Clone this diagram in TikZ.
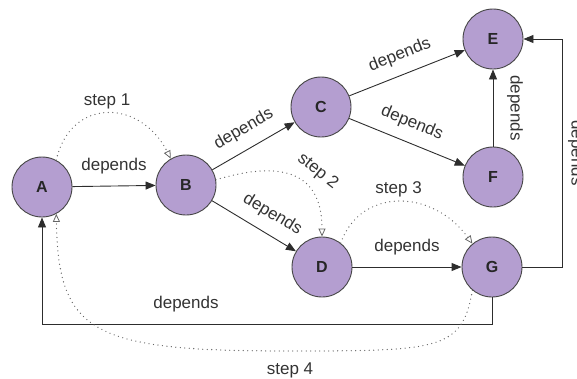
\documentclass[tikz,border=0pt]{standalone}
\usepackage{fontspec}
\setmainfont{Liberation Sans}
\usetikzlibrary{arrows.meta}
\definecolor{nodefill}{RGB}{180,158,208}
\definecolor{nodeline}{RGB}{70,70,70}
\definecolor{edgecol}{RGB}{45,45,45}
\definecolor{stepcol}{RGB}{100,100,100}
\tikzset{
  vtx/.style={circle, draw=nodeline, line width=0.9pt, fill=nodefill, minimum size=60pt, inner sep=0pt, font=\fontsize{16}{19}\selectfont\bfseries, text=black!85},
  dep/.style={draw=edgecol, line width=0.9pt, -{Triangle[length=10pt,width=8pt]}},
  stepline/.style={draw=stepcol, line width=1.3pt, line cap=round, dash pattern=on 0pt off 4.5pt, -{Triangle[open,length=8pt,width=7pt,line width=0.8pt,line cap=butt]}},
  lbl/.style={font=\fontsize{17}{20}\selectfont, text=black!80, inner sep=0pt},
}
\begin{document}
\begin{tikzpicture}[x=1pt,y=1pt]
\useasboundingbox (0,0) rectangle (577,-378);
\node[vtx] (A) at (42,-187) {A};
\node[vtx] (B) at (186,-185) {B};
\node[vtx] (C) at (321,-107) {C};
\node[vtx] (D) at (322,-267) {D};
\node[vtx] (E) at (493,-39) {E};
\node[vtx] (F) at (493,-177) {F};
\node[vtx] (G) at (492,-267) {G};
\coordinate (gr) at (562,-267);
\coordinate (er) at (562,-39);
\coordinate (gb) at (492,-324);
\coordinate (ab) at (42,-324);
% solid connectors
\draw[dep] (A) -- node[lbl, midway, above=12pt] {depends} (B);
\draw[dep] (B) -- node[lbl, pos=0.5, sloped, above=11pt] {depends} (C);
\draw[dep] (B) -- node[lbl, pos=0.6, sloped, above=11pt] {depends} (D);
\draw[dep] (C) -- node[lbl, pos=0.5, sloped, above=11pt] {depends} (E);
\draw[dep] (C) -- node[lbl, pos=0.48, sloped, above=11pt] {depends} (F);
\draw[dep] (D) -- node[lbl, midway, above=12pt] {depends} (G);
\draw[dep] (F) -- node[lbl, midway, xshift=22pt, rotate=-90] {depends} (E);
\draw[dep] (G.east) -- (gr) -- node[lbl, pos=0.5, xshift=14pt, rotate=-90] {depends} (er) -- (E.east);
\draw[dep] (G.south) -- (gb) -- node[lbl, pos=0.68, above=12pt] {depends} (ab) -- (A.south);
% steps
\draw[stepline] (A.62) .. controls (70,-98) and (140,-98) .. node[lbl, pos=0.5, above=4pt] {step 1} (B.120);
\draw[stepline] (B.10) .. controls (272,-163) and (322,-165) .. node[lbl, pos=0.7, shift={(8,18)}, rotate=-38] {step 2} (D.north);
\draw[stepline] (D.52) .. controls (360,-188) and (432,-188) .. node[lbl, pos=0.5, above=4pt] {step 3} (G.130);
\draw[stepline] (G.230) .. controls (462,-350) and (440,-351) .. (290,-351) node[lbl, below=11pt] {step 4}
  .. controls (95,-351) and (58,-335) .. (A.-62);
\end{tikzpicture}
\end{document}
